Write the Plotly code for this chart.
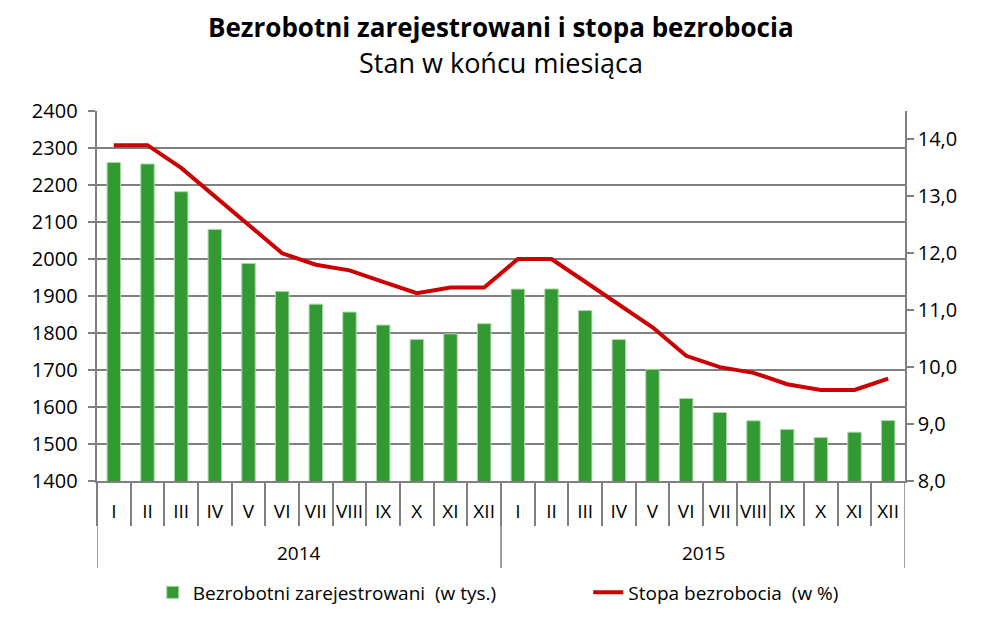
import plotly.graph_objects as go

# Bezrobotni zarejestrowani (w tys.) i stopa bezrobocia (w %), stan w końcu miesiąca
years = ['2014', '2015']
months = ['I', 'II', 'III', 'IV', 'V', 'VI', 'VII', 'VIII', 'IX', 'X', 'XI', 'XII']

unemployed = [2260.7, 2256.8, 2181.9, 2080.0, 1987.7, 1912.5, 1878.0, 1856.6, 1821.4, 1782.3, 1797.6, 1825.2,
              1918.6, 1919.1, 1860.6, 1782.2, 1701.8, 1622.8, 1585.1, 1562.7, 1539.4, 1517.3, 1531.9, 1563.3]
rate = [13.9, 13.9, 13.5, 13.0, 12.5, 12.0, 11.8, 11.7, 11.5, 11.3, 11.4, 11.4,
        11.9, 11.9, 11.5, 11.1, 10.7, 10.2, 10.0, 9.9, 9.7, 9.6, 9.6, 9.8]

n = len(unemployed)
xpos = list(range(n))
month_labels = months * len(years)

grey = '#808080'
font_name = 'Open Sans'
gap = '\u2009\u2009'  # thin spaces to push tick labels away from the axis lines

fig = go.Figure()
fig.add_trace(go.Bar(x=xpos, y=unemployed, name='Bezrobotni zarejestrowani  (w tys.)',
                     marker=dict(color='#339933', line=dict(color='#a8d8a8', width=1)),
                     legend='legend'))
fig.add_trace(go.Scatter(x=xpos, y=rate, name='Stopa bezrobocia  (w %)', yaxis='y2',
                         mode='lines', line=dict(color='#cc0000', width=4), legend='legend2'))

# titles
fig.add_annotation(text='<b>Bezrobotni zarejestrowani i stopa bezrobocia</b>', xref='paper', yref='paper',
                   x=0.5, y=1.227, yanchor='middle', showarrow=False, font=dict(size=26))
fig.add_annotation(text='Stan w końcu miesiąca', xref='paper', yref='paper',
                   x=0.5, y=1.13, yanchor='middle', showarrow=False, font=dict(size=27))

# year labels and dividers below the axis
for i, yr in enumerate(years):
    fig.add_annotation(text=yr, xref='x', yref='paper', x=i * 12 + 5.5, y=-0.195,
                       yanchor='middle', showarrow=False, font=dict(size=19))
for b in range(len(years) + 1):
    fig.add_shape(type='line', xref='x', yref='paper', x0=b * 12 - 0.5, x1=b * 12 - 0.5,
                  y0=0, y1=-0.235, line=dict(color=grey, width=1.5))

legend_style = dict(orientation='h', y=-0.25, yanchor='top', xanchor='left',
                    font=dict(size=19), itemwidth=30, bgcolor='rgba(0,0,0,0)')

fig.update_layout(
    width=981, height=611,
    margin=dict(l=89, r=84, t=103, b=138, autoexpand=False),
    paper_bgcolor='white', plot_bgcolor='white',
    font=dict(family=font_name, size=19, color='black'),
    separators=', ',
    bargap=0.6,
    showlegend=True,
    xaxis=dict(range=[-0.5, n - 0.5], tickvals=xpos, ticktext=month_labels, ticks='outside',
               ticklen=12, tickcolor='rgba(0,0,0,0)', showgrid=False, zeroline=False,
               showline=True, linecolor=grey, linewidth=1.5, tickfont=dict(size=19),
               minor=dict(tickvals=[p - 0.5 for p in xpos], ticks='outside', ticklen=43,
                          tickcolor=grey, tickwidth=1.5, showgrid=False)),
    yaxis=dict(range=[1400, 2400], dtick=100, showgrid=True, gridcolor=grey, gridwidth=1.5,
               showline=True, linecolor=grey, linewidth=1.5, ticks='outside', ticklen=7,
               tickcolor=grey, tickwidth=1.5, zeroline=False, tickfont=dict(size=20),
               ticksuffix=gap),
    yaxis2=dict(range=[8, 14.5], tickvals=[8, 9, 10, 11, 12, 13, 14], tickformat='.1f',
                overlaying='y', side='right', showgrid=False, showline=True, linecolor=grey,
                linewidth=1.5, ticks='outside', ticklen=7, tickcolor=grey, tickwidth=1.5,
                zeroline=False, tickfont=dict(size=20), tickprefix=gap),
    legend=dict(x=0.069, **legend_style),
    legend2=dict(x=0.608, **legend_style),
)

fig.write_html('out.html')
